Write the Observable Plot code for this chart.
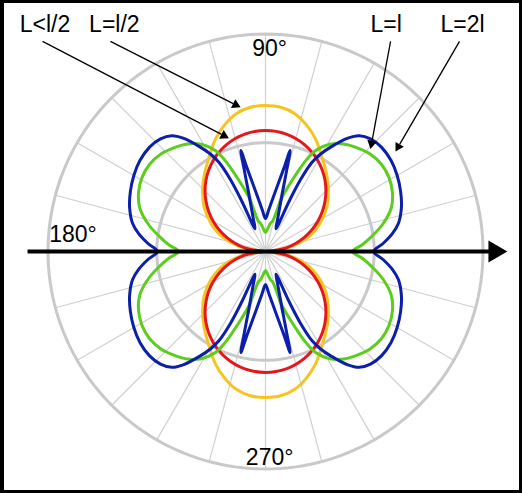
<!DOCTYPE html>
<html>
<head>
<meta charset="utf-8">
<script src="https://cdn.jsdelivr.net/npm/d3@7"></script>
<script src="https://cdn.jsdelivr.net/npm/@observablehq/plot@0.6"></script>
<style>
  html, body { margin: 0; padding: 0; background: white; }
  #wrap { position: relative; width: 522px; height: 493px; overflow: hidden; }
  #frame { position: absolute; left: 0; top: 0; width: 522px; height: 493px; box-sizing: border-box;
           border: 3px solid #000; border-left-width: 4px; pointer-events: none; }
</style>
</head>
<body>
<div id="wrap"><div id="chart"></div><div id="frame"></div></div>
<script>
// ---- data (first quadrant, angle in degrees from the horizontal axis, radius relative to outer ring) ----
const seriesNames = ["L<l/2", "L=l/2", "L=l", "L=2l"];

const redAngles = [0, 10, 20, 30, 40, 50, 60, 70, 80, 90];
const redRadii  = [0, 0.097, 0.190, 0.278, 0.357, 0.426, 0.482, 0.523, 0.548, 0.556];

const yellowAngles = [0, 10, 18, 27, 36, 45, 52, 58, 66, 72, 78, 84, 90];
const yellowRadii  = [0, 0.110, 0.202, 0.280, 0.349, 0.409, 0.455, 0.497, 0.566, 0.611, 0.648, 0.667, 0.671];

const greenAngles = [0, 4, 8, 13, 19, 25, 31, 37, 43, 49, 54, 59, 63.5, 66, 68, 70.5, 73, 76.5, 80, 84, 90];
const greenRadii  = [0.400, 0.446, 0.492, 0.552, 0.611, 0.644, 0.662, 0.667, 0.657, 0.634, 0.611, 0.575, 0.520, 0.460, 0.395, 0.322, 0.262, 0.147, 0.131, 0.108, 0.087];

const blueAngles = [0, 4, 8, 12, 18, 24, 30, 36, 42, 47, 51, 54, 58, 60.5, 62.5, 64, 64.8, 65.3, 69.3, 71.7, 74.2, 75.4, 76.3, 77.5, 79.5, 82.9, 85.7, 90];
const blueRadii  = [0.497, 0.543, 0.589, 0.625, 0.657, 0.680, 0.699, 0.713, 0.717, 0.708, 0.685, 0.644, 0.566, 0.515, 0.460, 0.368, 0.253, 0.115, 0.156, 0.202, 0.294, 0.386, 0.478, 0.395, 0.313, 0.232, 0.190, 0.152];

const gridRadii = [0.5, 1];
const spokeStep = 15;
const tickLabels = ["90°", "180°", "270°"];

// ---- layout (not data) ----
const colors = {"L<l/2": "#e3171c", "L=l/2": "#f6c420", "L=l": "#5ccd1e", "L=2l": "#0c1fa8"};
const tickPos = [[0.019, 0.931], [-0.885, 0.078], [0.019, -0.947]];
const labelPos = {"L<l/2": [-1.014, 1.044], "L=l/2": [-0.695, 1.044], "L=l": [0.555, 1.044], "L=2l": [0.906, 1.044]};
const arrowTail = {"L<l/2": [-1.025, 0.966], "L=l/2": [-0.713, 0.966], "L=l": [0.575, 0.966], "L=2l": [0.892, 0.966]};
const arrowHead = {"L<l/2": [-0.169, 0.521], "L=l/2": [-0.115, 0.663], "L=l": [0.483, 0.472], "L=2l": [0.598, 0.460]};
const axisLine = {x1: -1.094, x2: 1.03, tip: 1.054};
const headBack = 0.025; // distance from arrow tip back to triangle centre (data units)

// ---- build full patterns by mirroring the read quadrant ----
const rad = Math.PI / 180;
function toXY(a, r, name, lobe) { return {name, lobe, x: r * Math.cos(a * rad), y: r * Math.sin(a * rad)}; }

function closedPattern(name, ang, rr) {
  const n = ang.length, pts = [];
  for (let i = 0; i < n; i++) pts.push(toXY(ang[i], rr[i], name, name));
  for (let i = n - 2; i >= 0; i--) pts.push(toXY(180 - ang[i], rr[i], name, name));
  for (let i = 1; i < n; i++) pts.push(toXY(180 + ang[i], rr[i], name, name));
  for (let i = n - 2; i >= 1; i--) pts.push(toXY(360 - ang[i], rr[i], name, name));
  return pts;
}
function lobePattern(name, ang, rr) {
  const n = ang.length, pts = [];
  for (let i = 0; i < n; i++) pts.push(toXY(ang[i], rr[i], name, name + "u"));
  for (let i = n - 2; i >= 0; i--) pts.push(toXY(180 - ang[i], rr[i], name, name + "u"));
  for (let i = 0; i < n; i++) pts.push(toXY(180 + ang[i], rr[i], name, name + "d"));
  for (let i = n - 2; i >= 0; i--) pts.push(toXY(360 - ang[i], rr[i], name, name + "d"));
  return pts;
}

const yellowPts = lobePattern("L=l/2", yellowAngles, yellowRadii);
const redPts = lobePattern("L<l/2", redAngles, redRadii);
const greenPts = closedPattern("L=l", greenAngles, greenRadii);
const bluePts = closedPattern("L=2l", blueAngles, blueRadii);

const circlePts = gridRadii.flatMap(r => d3.range(0, 361, 2).map(a => ({r, x: r * Math.cos(a * rad), y: r * Math.sin(a * rad)})));
const spokes = d3.range(0, 360, spokeStep).map(a => ({x: Math.cos(a * rad), y: Math.sin(a * rad)}));

const ticks = tickLabels.map((t, i) => ({t, x: tickPos[i][0], y: tickPos[i][1]}));
const labels = seriesNames.map(s => ({s, x: labelPos[s][0], y: labelPos[s][1]}));
const arrows = seriesNames.map(s => {
  const [x1, y1] = arrowTail[s], [x2, y2] = arrowHead[s];
  const len = Math.hypot(x2 - x1, y2 - y1), ux = (x2 - x1) / len, uy = (y2 - y1) / len;
  return {s, x1, y1, x2, y2,
          lx: x2 - ux * headBack * 1.5, ly: y2 - uy * headBack * 1.5,
          hx: x2 - ux * headBack, hy: y2 - uy * headBack,
          rot: Math.atan2(ux, uy) / rad};
});

const chart = Plot.plot({
  width: 522, height: 493, margin: 0,
  style: {fontFamily: "'Liberation Sans', Arial, Helvetica, sans-serif", background: "white"},
  x: {domain: [-1, 1], range: [47.5, 482.5], axis: null},
  y: {domain: [-1, 1], range: [468.5, 33.5], axis: null},
  marks: [
    Plot.link(spokes, {x1: 0, y1: 0, x2: "x", y2: "y", stroke: "#d0d0d0", strokeWidth: 1.2}),
    Plot.line(circlePts, {x: "x", y: "y", z: "r", stroke: "#c9c9c9", strokeWidth: 3}),
    Plot.line(yellowPts, {x: "x", y: "y", z: "lobe", stroke: colors["L=l/2"], strokeWidth: 3, curve: "catmull-rom"}),
    Plot.line(redPts, {x: "x", y: "y", z: "lobe", stroke: colors["L<l/2"], strokeWidth: 3, curve: "catmull-rom"}),
    Plot.line(greenPts, {x: "x", y: "y", z: "lobe", stroke: colors["L=l"], strokeWidth: 3, curve: "catmull-rom-closed"}),
    Plot.line(bluePts, {x: "x", y: "y", z: "lobe", stroke: colors["L=2l"], strokeWidth: 3, curve: "catmull-rom-closed"}),
    Plot.link([axisLine], {x1: "x1", x2: "x2", y1: 0, y2: 0, stroke: "black", strokeWidth: 4}),
    Plot.dot([axisLine], {x: "tip", y: 0, symbol: "triangle", rotate: 90, r: 8.1, fill: "black", stroke: "none"}),
    Plot.link(arrows, {x1: "x1", y1: "y1", x2: "lx", y2: "ly", stroke: "black", strokeWidth: 1.3}),
    Plot.dot(arrows, {x: "hx", y: "hy", symbol: "triangle", rotate: "rot", r: 3.6, fill: "black", stroke: "none"}),
    Plot.text(ticks, {x: "x", y: "y", text: "t", fontSize: 23, fill: "black"}),
    Plot.text(labels, {x: "x", y: "y", text: "s", fontSize: 23, fill: "black"})
  ]
});
document.getElementById("chart").appendChild(chart);
</script>
</body>
</html>
